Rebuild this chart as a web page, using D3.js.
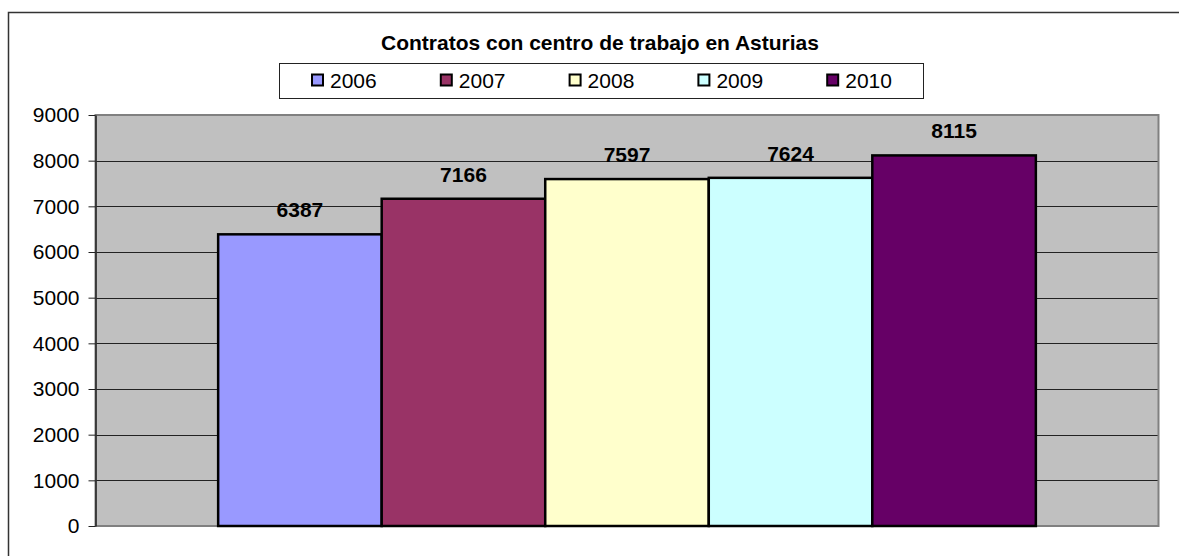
<!DOCTYPE html>
<html>
<head>
<meta charset="utf-8">
<script src="https://cdn.jsdelivr.net/npm/d3@7"></script>
<style>
  body { margin: 0; background: #fff; }
  text { font-family: Arial, "Liberation Sans", sans-serif; }
</style>
</head>
<body>
<script>
// data
var years = ["2006", "2007", "2008", "2009", "2010"];
var contratos = [6387, 7166, 7597, 7624, 8115];
var colors = ["#9999FF", "#993366", "#FFFFCC", "#CCFFFF", "#660066"];
var yTicks = [0, 1000, 2000, 3000, 4000, 5000, 6000, 7000, 8000, 9000];
var title = "Contratos con centro de trabajo en Asturias";

var W = 1179, H = 556;
// plot area
var plot = {left: 95.5, top: 115, right: 1158.5, bottom: 526};

var svg = d3.select("body").append("svg")
    .attr("width", W)
    .attr("height", H);

// outer chart border (runs off the right and bottom)
svg.append("rect")
    .attr("x", 8.5).attr("y", 12.5)
    .attr("width", W + 20).attr("height", H + 20)
    .attr("fill", "#fff")
    .attr("stroke", "#333")
    .attr("stroke-width", 1.5);

var x = d3.scaleBand()
    .domain(years)
    .range([plot.left, plot.right])
    .paddingInner(0)
    .paddingOuter(0.75);

var y = d3.scaleLinear()
    .domain([0, 9000])
    .range([plot.bottom, plot.top]);

// plot background
svg.append("rect")
    .attr("x", plot.left).attr("y", plot.top)
    .attr("width", plot.right - plot.left)
    .attr("height", plot.bottom - plot.top)
    .attr("fill", "#C0C0C0");

// gridlines
svg.append("g")
    .selectAll("line")
    .data(yTicks.slice(1))
    .enter().append("line")
      .attr("x1", plot.left).attr("x2", plot.right)
      .attr("y1", function(d) { return Math.round(y(d)) + 0.5; })
      .attr("y2", function(d) { return Math.round(y(d)) + 0.5; })
      .attr("stroke", "#222")
      .attr("stroke-width", 1);

// plot area border (gray)
svg.append("rect")
    .attr("x", plot.left).attr("y", plot.top)
    .attr("width", plot.right - plot.left)
    .attr("height", plot.bottom - plot.top)
    .attr("fill", "none")
    .attr("stroke", "#808080")
    .attr("stroke-width", 2);

// bars
svg.append("g")
    .selectAll("rect")
    .data(contratos)
    .enter().append("rect")
      .attr("x", function(d, i) { return x(years[i]); })
      .attr("y", function(d) { return y(d); })
      .attr("width", x.bandwidth())
      .attr("height", function(d) { return y(0) - y(d); })
      .attr("fill", function(d, i) { return colors[i]; })
      .attr("stroke", "#000")
      .attr("stroke-width", 2.5);

// value labels
svg.append("g")
    .selectAll("text")
    .data(contratos)
    .enter().append("text")
      .attr("x", function(d, i) { return x(years[i]) + x.bandwidth() / 2; })
      .attr("y", function(d) { return y(d) - 17; })
      .attr("text-anchor", "middle")
      .style("font-size", "21px")
      .style("font-weight", "bold")
      .text(function(d) { return d; });

// y axis
var yAxis = svg.append("g")
    .attr("transform", "translate(" + plot.left + ",0)")
    .call(d3.axisLeft(y).tickValues(yTicks).tickFormat(d3.format("d"))
      .tickSize(7).tickPadding(9).tickSizeOuter(0));
yAxis.select(".domain").attr("stroke", "#222").attr("stroke-width", 1.5);
yAxis.selectAll(".tick line").attr("stroke", "#222");
yAxis.selectAll(".tick text")
    .attr("fill", "#000")
    .style("font-family", "Arial, 'Liberation Sans', sans-serif")
    .style("font-size", "21px");

// title
svg.append("text")
    .attr("x", 600)
    .attr("y", 50)
    .attr("text-anchor", "middle")
    .style("font-size", "21px")
    .style("font-weight", "bold")
    .text(title);

// legend
var leg = {left: 279, top: 63, right: 923, bottom: 98};
svg.append("rect")
    .attr("x", leg.left + 0.5).attr("y", leg.top + 0.5)
    .attr("width", leg.right - leg.left)
    .attr("height", leg.bottom - leg.top)
    .attr("fill", "#fff")
    .attr("stroke", "#222")
    .attr("stroke-width", 1);

var lx = d3.scaleBand().domain(years).range([leg.left, leg.right]);

var item = svg.append("g")
    .selectAll("g")
    .data(years)
    .enter().append("g")
      .attr("transform", function(d) { return "translate(" + (lx(d) + 33) + ",80)"; });

item.append("rect")
    .attr("x", 0).attr("y", -5.5)
    .attr("width", 11).attr("height", 11)
    .attr("fill", function(d, i) { return colors[i]; })
    .attr("stroke", "#000")
    .attr("stroke-width", 2);

item.append("text")
    .attr("x", 18)
    .attr("y", 8)
    .style("font-size", "21px")
    .text(function(d) { return d; });
</script>
</body>
</html>
